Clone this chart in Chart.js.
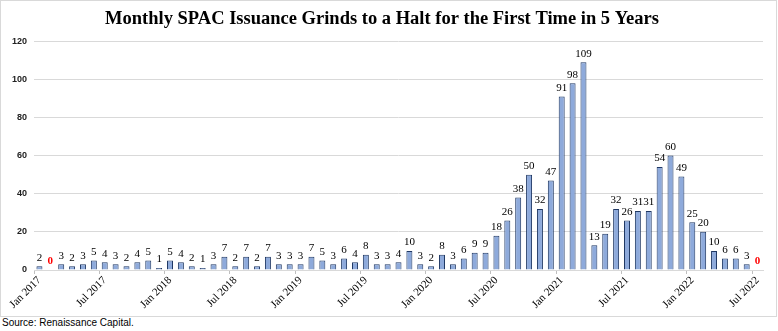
<!DOCTYPE html>
<html>
<head>
<meta charset="utf-8">
<script src="https://cdn.jsdelivr.net/npm/chart.js@4"></script>
<style>
  body { margin: 0; background: #fff; }
  #box { position: absolute; left: 0; top: 0; width: 775px; height: 315px; border: 1px solid #d9d9d9; }
  #source { position: absolute; left: 2px; top: 317px; font: 10px "Liberation Sans", Arial, sans-serif; color: #000; }
</style>
</head>
<body>
<div id="box"><canvas id="spacChart"></canvas></div>
<div id="source">Source: Renaissance Capital.</div>
<script>
// Global constants
const monthNames = ['Jan', 'Feb', 'Mar', 'Apr', 'May', 'Jun', 'Jul', 'Aug', 'Sep', 'Oct', 'Nov', 'Dec'];
const years = [2017, 2018, 2019, 2020, 2021, 2022];

// SPAC IPOs per month, Jan 2017 - Jul 2022
const spacs2017 = [2, 0, 3, 2, 3, 5, 4, 3, 2, 4, 5, 1];
const spacs2018 = [5, 4, 2, 1, 3, 7, 2, 7, 2, 7, 3, 3];
const spacs2019 = [3, 7, 5, 3, 6, 4, 8, 3, 3, 4, 10, 3];
const spacs2020 = [2, 8, 3, 6, 9, 9, 18, 26, 38, 50, 32, 47];
const spacs2021 = [91, 98, 109, 13, 19, 32, 26, 31, 31, 54, 60, 49];
const spacs2022 = [25, 20, 10, 6, 6, 3, 0];

const yTicks = [0, 20, 40, 60, 80, 100, 120];

const spacCounts = [...spacs2017, ...spacs2018, ...spacs2019, ...spacs2020, ...spacs2021, ...spacs2022];
const monthLabels = [];
years.forEach(y => monthNames.forEach(m => monthLabels.push(`${m} ${y}`)));
monthLabels.length = spacCounts.length;

// value labels on top of the bars (red bold when zero)
const barLabels = {
  id: 'barLabels',
  afterDatasetsDraw(chart) {
    const ctx = chart.ctx;
    const meta = chart.getDatasetMeta(0);
    ctx.save();
    ctx.textAlign = 'center';
    ctx.textBaseline = 'bottom';
    meta.data.forEach((bar, i) => {
      const v = spacCounts[i];
      ctx.font = (v === 0 ? 'bold ' : '') + '11px "Liberation Serif", "Times New Roman", serif';
      ctx.fillStyle = v === 0 ? '#ff0000' : '#000';
      ctx.fillText(String(v), bar.x, bar.y - 3);
    });
    ctx.restore();
  }
};

const isTickMonth = label => label.startsWith('Jan') || label.startsWith('Jul');

new Chart(document.getElementById('spacChart').getContext('2d'), {
  type: 'bar',
  data: {
    labels: monthLabels,
    datasets: [{
      data: spacCounts,
      backgroundColor: '#8eaadb',
      borderColor: '#1f3864',
      borderWidth: 1,
      barPercentage: 0.55,
      categoryPercentage: 1
    }]
  },
  options: {
    responsive: true,
    maintainAspectRatio: false,
    animation: false,
    layout: { padding: { left: 0, right: 13, top: 0, bottom: 0 } },
    plugins: {
      legend: { display: false },
      tooltip: { enabled: false },
      title: {
        display: true,
        text: 'Monthly SPAC Issuance Grinds to a Halt for the First Time in 5 Years',
        color: '#000',
        font: { family: '"Liberation Serif", "Times New Roman", serif', size: 18.5, weight: 'bold' },
        padding: { top: 7, bottom: 11 }
      }
    },
    scales: {
      x: {
        offset: true,
        grid: {
          offset: true,
          drawOnChartArea: false,
          tickLength: 4,
          color: ctx => (ctx.tick && isTickMonth(ctx.tick.label || '') ? '#bfbfbf' : 'rgba(0,0,0,0)')
        },
        border: { color: '#d9d9d9' },
        ticks: {
          autoSkip: false,
          minRotation: 45,
          maxRotation: 45,
          padding: 0,
          color: '#000',
          font: { family: '"Liberation Serif", "Times New Roman", serif', size: 11 },
          callback: function (value) {
            const label = this.getLabelForValue(value);
            return isTickMonth(label) ? label : '';
          }
        },
        afterFit: scale => { scale.height = 46; }
      },
      y: {
        min: 0,
        max: 120,
        afterBuildTicks: scale => { scale.ticks = yTicks.map(v => ({ value: v })); },
        grid: { color: '#d9d9d9', drawTicks: false },
        border: { display: false },
        ticks: {
          padding: 7,
          color: '#222',
          font: { family: '"Liberation Sans", Arial, sans-serif', size: 9, weight: 'bold' }
        },
        afterFit: scale => { scale.width = 33; }
      }
    }
  },
  plugins: [barLabels]
});
</script>
</body>
</html>
